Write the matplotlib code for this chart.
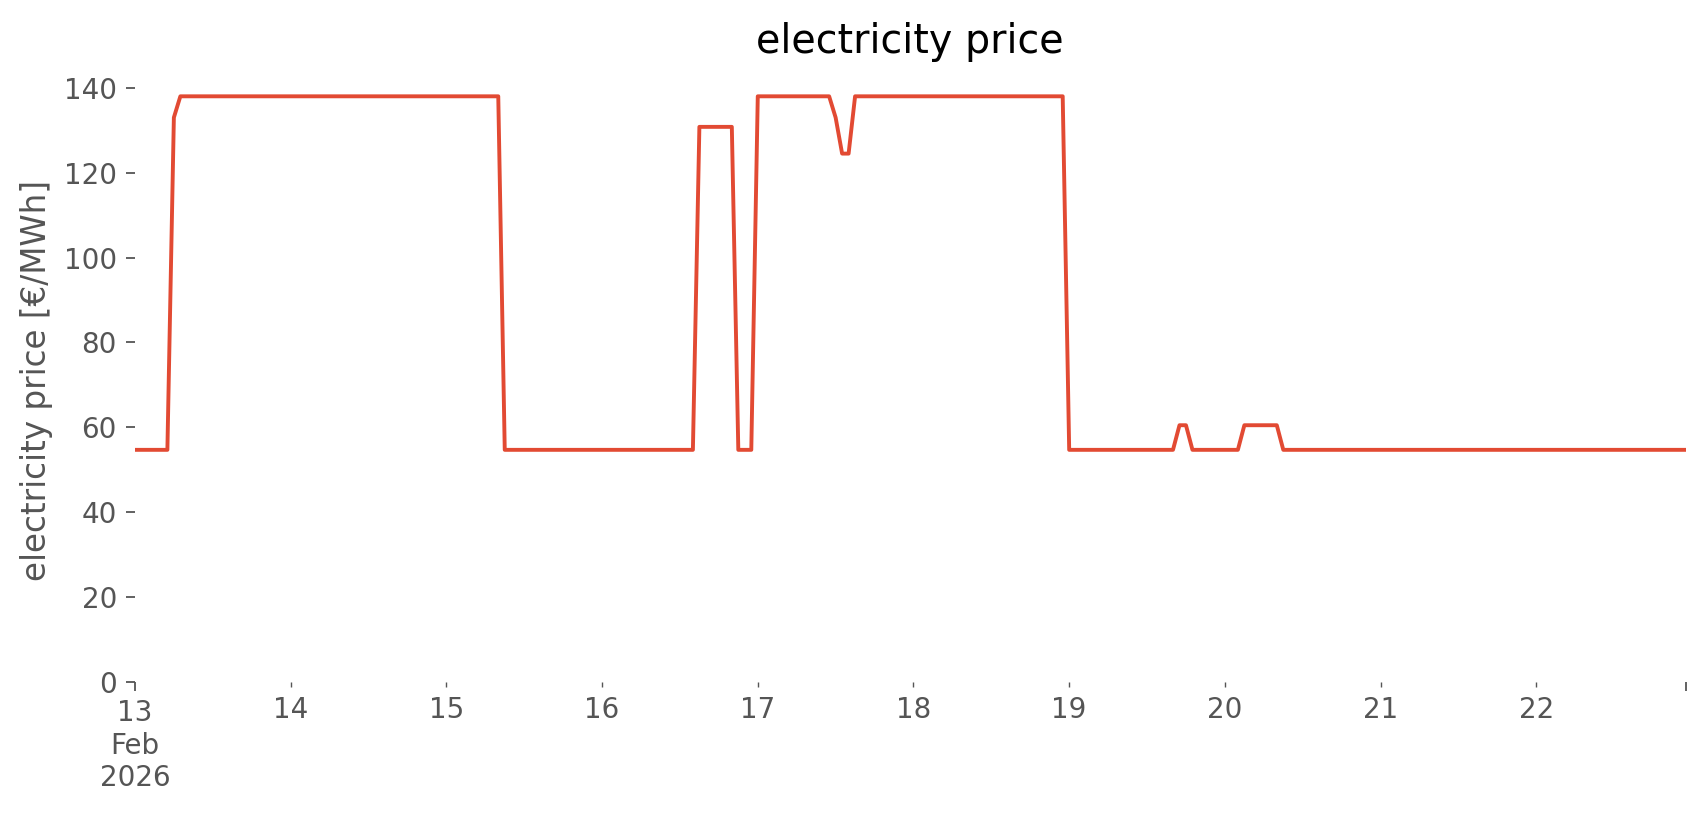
import numpy as np
import pandas as pd
import matplotlib
matplotlib.use("Agg")
import matplotlib.pyplot as plt

# hourly price, given as runs of constant value (value, number of hours)
run_values = [54.7, 133.0, 138.0, 54.7, 130.8, 54.7, 138.0, 133.0, 124.5, 138.0,
              54.7, 60.5, 54.7, 60.5, 54.7]
run_hours = [6, 1, 50, 30, 6, 3, 12, 1, 2, 33, 17, 2, 8, 6, 63]
start = "2026-02-13 00:00"

price = np.repeat(run_values, run_hours)
times = pd.date_range(start, periods=len(price), freq="h")

plt.style.use("ggplot")
plt.rcParams["axes.facecolor"] = "white"
plt.rcParams["axes.grid"] = False

fig = plt.figure(figsize=(17.06, 8.15), dpi=100)
ax = fig.add_axes([0.0791, 0.1632, 0.9089, 0.7405])
ax.plot(times, price, color="#E24A33", linewidth=2.8)

ax.set_xlim(times[0], times[-1])
ax.set_ylim(0, 142.2)
ax.set_yticks(np.arange(0, 141, 20))

# day ticks like pandas: first/last as major, days as minor
ax.set_xticks([times[0], times[-1]])
ax.set_xticklabels(["13\nFeb\n2026", ""])
days = pd.date_range("2026-02-14", "2026-02-22", freq="D")
ax.set_xticks(days, minor=True)
ax.set_xticklabels([str(d.day) for d in days], minor=True)

for s in ax.spines.values():
    s.set_visible(False)
ax.tick_params(axis="both", which="major", labelsize=20, colors="#555555", length=6.5, width=1.3)
ax.tick_params(axis="y", which="major", pad=6.5)
ax.tick_params(axis="x", which="major", pad=6)
ax.tick_params(axis="x", which="minor", labelsize=20, colors="#555555", length=3.5, width=1.0, pad=6.5)

ax.set_ylabel("electricity price [€/MWh]", fontsize=23.5, color="#555555", labelpad=8)
ax.set_title("electricity price", fontsize=28.5, color="black", pad=18)

fig.savefig("out.png", dpi=100)
